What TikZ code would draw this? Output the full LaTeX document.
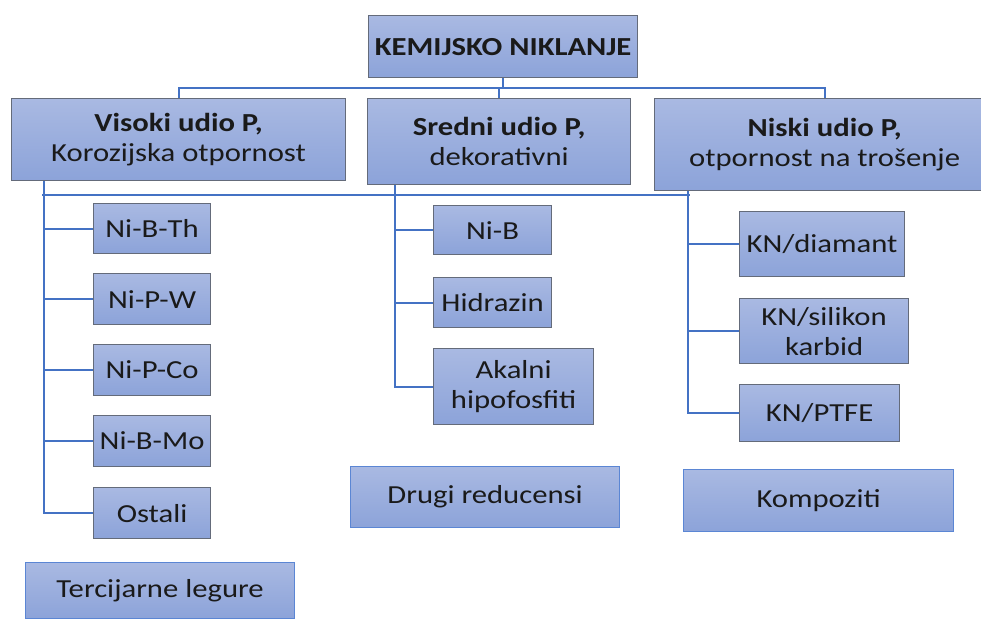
\documentclass[tikz,border=0pt]{standalone}
\usepackage{fontspec}
\setmainfont{Carlito}[FakeStretch=1.18]
\definecolor{boxtop}{HTML}{A9B9E2}
\definecolor{boxbot}{HTML}{8CA3D9}
\definecolor{boxline}{HTML}{646B7A}
\definecolor{blueline}{HTML}{5B86D4}
\definecolor{conncol}{HTML}{4472C4}
\definecolor{txt}{HTML}{1A1A1A}
\tikzset{
  box/.style={draw=boxline, line width=1.2pt, top color=boxtop, bottom color=boxbot,
    align=center, inner sep=0pt, anchor=north west, text=txt,
    font=\fontsize{26}{30}\selectfont},
  bluebox/.style={box, draw=blueline},
  conn/.style={draw=conncol, line width=2pt},
}
\begin{document}
\begin{tikzpicture}[x=1pt,y=1pt]
\useasboundingbox (0,0) rectangle (981,-618);
\clip (0,0) rectangle (981,-618);
% level 1
\node[box, minimum width=269, minimum height=62] (top) at (368,-15) {\textbf{KEMIJSKO NIKLANJE}};
% level 2
\node[box, minimum width=334, minimum height=82] (visoki) at (11,-98) {\textbf{Visoki udio P,}\\Korozijska otpornost};
\node[box, minimum width=263, minimum height=86] (srednji) at (367,-98) {\textbf{Sredni udio P,}\\dekorativni};
\node[box, minimum width=340, minimum height=92] (niski) at (654,-98) {\textbf{Niski udio P,}\\otpornost na trošenje};
% left column
\node[box, minimum width=117, minimum height=50] (nibth) at (93,-203) {Ni-B-Th};
\node[box, minimum width=117, minimum height=51] (nipw) at (93,-273) {Ni-P-W};
\node[box, minimum width=117, minimum height=51] (nipco) at (93,-344) {Ni-P-Co};
\node[box, minimum width=117, minimum height=51] (nibmo) at (93,-415) {Ni-B-Mo};
\node[box, minimum width=117, minimum height=51] (ostali) at (93,-487) {Ostali};
\node[bluebox, minimum width=269, minimum height=56] (terc) at (25,-562) {Tercijarne legure};
% middle column
\node[box, minimum width=118, minimum height=49] (nib) at (433,-205) {Ni-B};
\node[box, minimum width=118, minimum height=50] (hidrazin) at (433,-277) {Hidrazin};
\node[box, minimum width=160, minimum height=76] (akalni) at (433,-348) {Akalni\\hipofosfiti};
\node[bluebox, minimum width=269, minimum height=61] (drugi) at (350,-466) {Drugi reducensi};
% right column
\node[box, minimum width=165, minimum height=65] (diamant) at (739,-211) {KN/diamant};
\node[box, minimum width=169, minimum height=65] (silikon) at (739,-298) {KN/silikon\\karbid};
\node[box, minimum width=160, minimum height=57] (ptfe) at (739,-384) {KN/PTFE};
\node[bluebox, minimum width=270, minimum height=62] (kompoziti) at (683,-469) {Kompoziti};
% connectors top
\coordinate (hub) at ([yshift=-10pt]top.south);
\draw[conn] (top.south) -- (hub);
\draw[conn] (visoki.north) |- (hub) -| (niski.north);
\draw[conn] (srednji.north) -- (srednji.north |- hub);
% trunks
\coordinate (tL) at ([xshift=33pt]visoki.south west);
\coordinate (tM) at ([xshift=28pt]srednji.south west);
\coordinate (tR) at ([xshift=34pt]niski.south west);
\coordinate (bar) at (0,-195);
\draw[conn] ([xshift=-2pt]tL |- bar) -- ([xshift=2pt]tR |- bar);
\draw[conn] (tL) |- (ostali.west);
\foreach \n in {nibth,nipw,nipco,nibmo} \draw[conn] (\n.west) -- (\n.west -| tL);
\draw[conn] (tM) |- (akalni.west);
\foreach \n in {nib,hidrazin} \draw[conn] (\n.west) -- (\n.west -| tM);
\draw[conn] (tR) |- (ptfe.west);
\foreach \n in {diamant,silikon} \draw[conn] (\n.west) -- (\n.west -| tR);
\end{tikzpicture}
\end{document}
